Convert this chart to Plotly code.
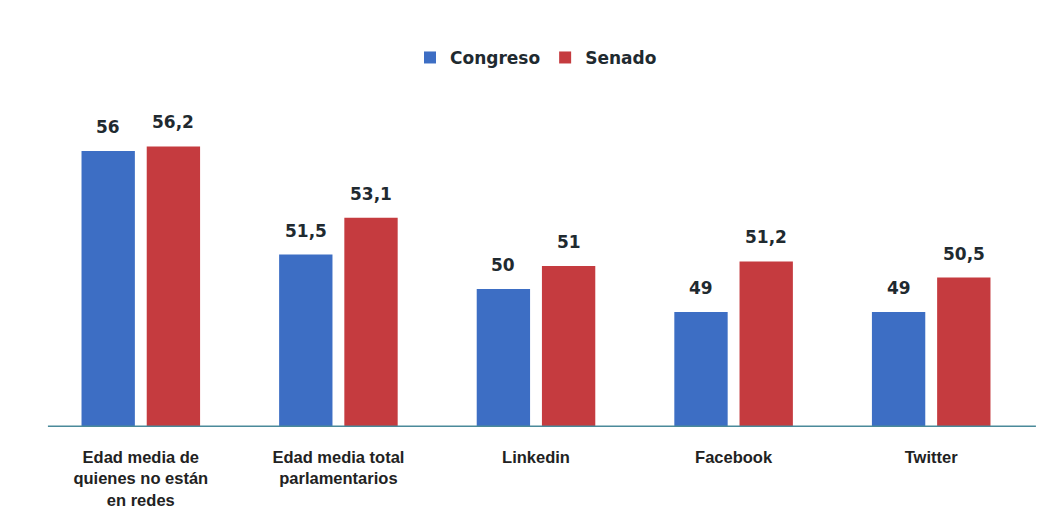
import plotly.graph_objects as go

categories = ["Edad media de<br>quienes no están<br>en redes",
              "Edad media total<br>parlamentarios",
              "Linkedin", "Facebook", "Twitter"]
congreso = [56, 51.5, 50, 49, 49]
senado = [56.2, 53.1, 51, 51.2, 50.5]

BLUE = "#3D6EC4"
RED = "#C53B3F"
OFF = 0.165
W = 0.27
BASE = 44

xs = list(range(len(categories)))
fig = go.Figure()
fig.add_trace(go.Bar(name="Congreso", x=[i - OFF for i in xs], y=[v - BASE for v in congreso],
                     base=BASE, width=W, marker=dict(color=BLUE, line=dict(width=0))))
fig.add_trace(go.Bar(name="Senado", x=[i + OFF for i in xs], y=[v - BASE for v in senado],
                     base=BASE, width=W, marker=dict(color=RED, line=dict(width=0))))

def fmt(v):
    return ("%g" % v).replace(".", ",")

for i in xs:
    for off, v in ((-OFF, congreso[i]), (OFF, senado[i])):
        fig.add_annotation(x=i + off, y=v, text="<b>%s</b>" % fmt(v), showarrow=False,
                           yanchor="bottom", yshift=12,
                           font=dict(family="DejaVu Sans, sans-serif", size=17, color="#1f2a30"))

fig.update_layout(
    width=1048, height=512,
    margin=dict(l=34, r=26, t=20, b=93, autoexpand=False),
    plot_bgcolor="white", paper_bgcolor="white",
    showlegend=True,
    legend=dict(orientation="h", x=0.5, xanchor="center", y=0.925, yanchor="middle",
                font=dict(family="DejaVu Sans, sans-serif", size=17, color="#1f2a30", weight="bold"),
                itemwidth=30, traceorder="normal", bgcolor="rgba(0,0,0,0)"),
    xaxis=dict(range=[-0.5, 4.5], tickmode="array", tickvals=xs, ticktext=categories,
               showgrid=False, zeroline=False, showline=False, automargin=False,
               ticks="outside", ticklen=15, tickcolor="rgba(0,0,0,0)",
               tickfont=dict(family="Liberation Sans, Arial, sans-serif",
                             size=16.5, color="#222222", weight="bold")),
    yaxis=dict(range=[BASE, 61.35], visible=False, showgrid=False, zeroline=False),
    shapes=[dict(type="line", xref="paper", yref="y", x0=0.006, x1=1.006, y0=BASE, y1=BASE,
                 line=dict(color="#4A8A9A", width=3))],
)

fig.write_html("out.html")
